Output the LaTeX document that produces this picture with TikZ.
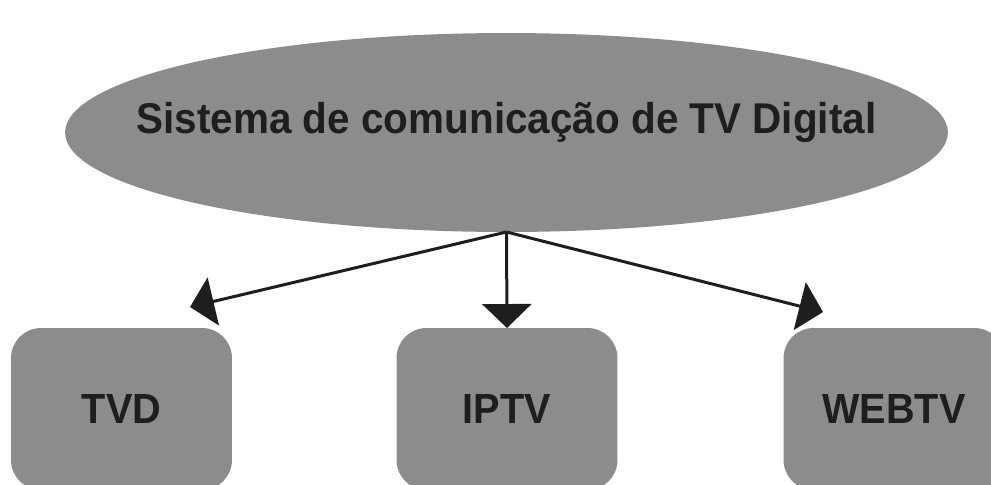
\documentclass[tikz,border=0pt]{standalone}
\usepackage{fontspec}
\setmainfont{Liberation Sans}[FakeStretch=0.94]
\usepackage{tikz}
\usetikzlibrary{shapes,arrows.meta,positioning}

\definecolor{boxgray}{HTML}{8C8C8C}
\definecolor{inkdark}{HTML}{1E1E1E}

\begin{document}
\begin{tikzpicture}[x=0.02cm,y=-0.02cm,
		sysellipse/.style={ellipse,fill=boxgray,draw=none,inner sep=0pt,outer sep=0pt,
			minimum width=17.66cm,minimum height=3.98cm},
		systext/.style={text=inkdark,font=\fontsize{24.5}{28}\selectfont\bfseries,inner sep=0pt},
		tvbox/.style={rectangle,rounded corners=0.6cm,fill=boxgray,draw=none,outer sep=0pt,
			minimum width=4.42cm,minimum height=3.24cm,text=inkdark,
			font=\fontsize{24}{28}\selectfont\bfseries},
		link/.style={draw=inkdark,line width=0.06cm,-{Triangle[length=0.48cm,width=0.98cm]}}]
	\clip (0,0) rectangle (991,484);
	\node[sysellipse] (sys) at (506.5,132.5) {};
	\node[systext] (systitle) at (506.5,122) {Sistema de comunicação de TV Digital};
	\node[tvbox] (tvd) at (121.5,409) {TVD};
	\node[tvbox] (iptv) at (507,409) {IPTV};
	\node[tvbox] (webtv) at (894,409) {WEBTV};
	% arrow tips
	\coordinate (tvdtip) at (190,307);
	\coordinate (webtip) at (823,312);
	\draw[link] (sys.south) -- (tvdtip);
	\draw[link] (sys.south) -- (iptv.north);
	\draw[link] (sys.south) -- (webtip);
\end{tikzpicture}
\end{document}
